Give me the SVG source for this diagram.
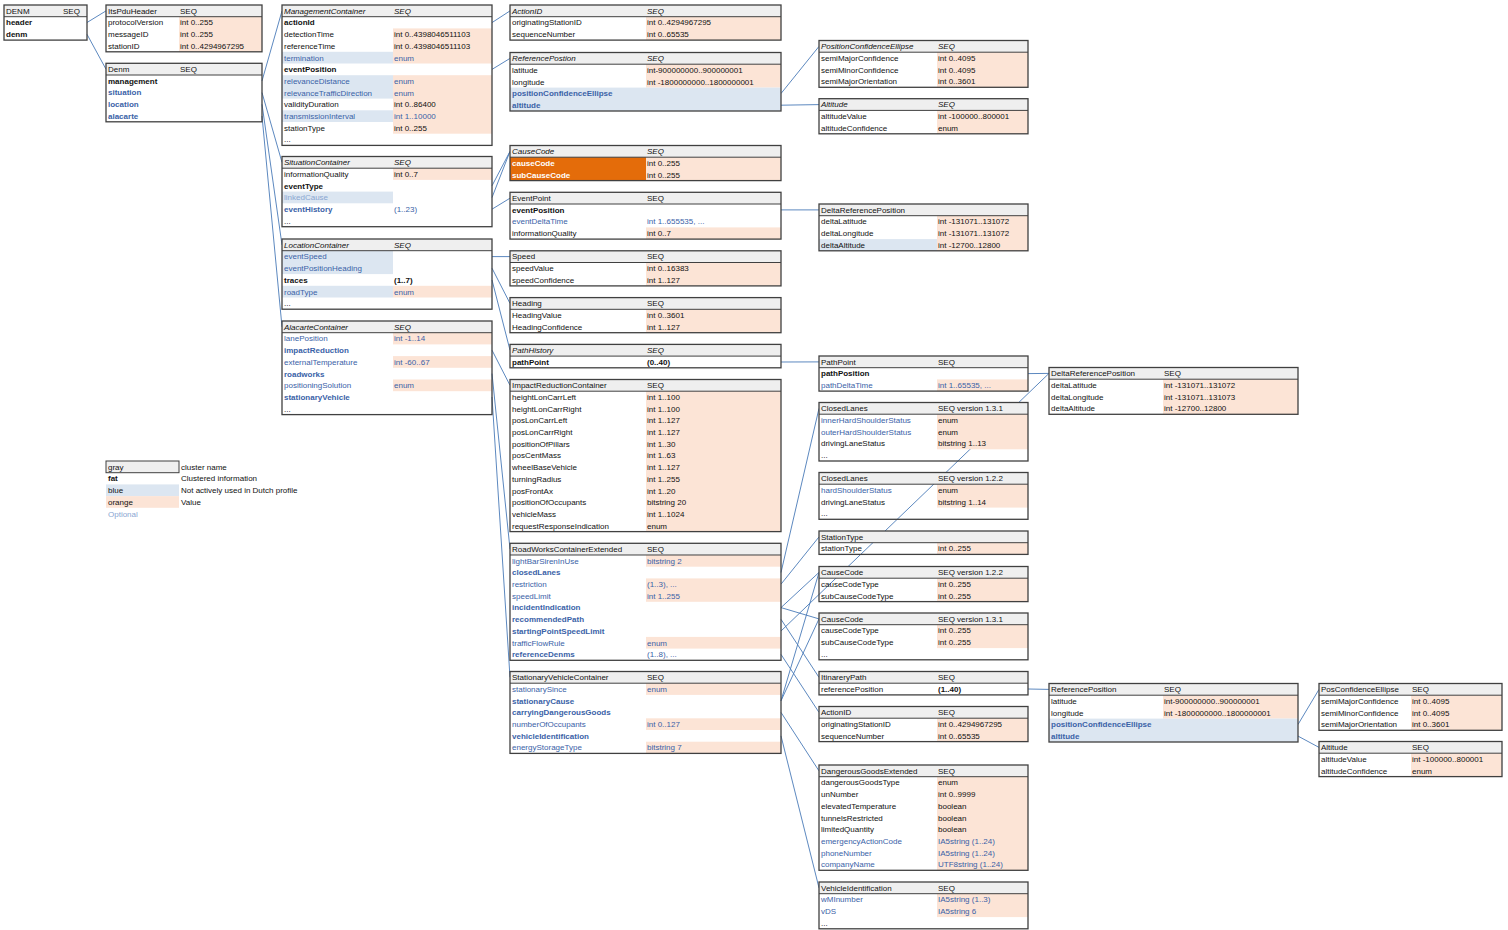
<svg xmlns="http://www.w3.org/2000/svg" width="1508" height="930" viewBox="0 0 1508 930">
<style>
text{font-family:"Liberation Sans",Arial,sans-serif;font-size:8px;fill:#111}
.i{font-style:italic}
.f{font-weight:bold}
.p{fill:#3a62a7}
.l{fill:#8aa6d2}
.w{fill:#fff}
.hd{fill:#efefef}
.o{fill:#fce4d6}
.u{fill:#dce6f1}
.d{fill:#e46c0a}
.bx{fill:none;stroke:#404040;stroke-width:1.3}
.sep{stroke:#404040;stroke-width:1}
#connectors line{stroke:#4a7ab8;stroke-width:0.9}
</style>
<rect width="1508" height="930" fill="#fff"/>

<g id="connectors">
<line x1="87" y1="22.5" x2="106" y2="10.9"/>
<line x1="87" y1="34.3" x2="106" y2="69.2"/>
<line x1="262" y1="80.9" x2="282" y2="10.9"/>
<line x1="262" y1="92.6" x2="282" y2="162.4"/>
<line x1="262" y1="104.3" x2="282" y2="244.9"/>
<line x1="262" y1="116" x2="282" y2="326.9"/>
<line x1="492" y1="22.6" x2="510" y2="10.9"/>
<line x1="492" y1="69.4" x2="510" y2="58.4"/>
<line x1="781" y1="93.5" x2="819" y2="46.4"/>
<line x1="781" y1="105.2" x2="819" y2="104.6"/>
<line x1="492" y1="185.8" x2="510" y2="151.4"/>
<line x1="492" y1="197.5" x2="510" y2="151.4"/>
<line x1="492" y1="209.2" x2="510" y2="198.2"/>
<line x1="492" y1="256.6" x2="510" y2="256.6"/>
<line x1="492" y1="268.2" x2="510" y2="303.4"/>
<line x1="492" y1="280" x2="510" y2="350.2"/>
<line x1="492" y1="350.2" x2="510" y2="385.3"/>
<line x1="492" y1="373.6" x2="510" y2="549.1"/>
<line x1="492" y1="397" x2="510" y2="677.3"/>
<line x1="781" y1="209.9" x2="819" y2="209.9"/>
<line x1="781" y1="362" x2="819" y2="361.9"/>
<line x1="1028" y1="373.6" x2="1049" y2="373.4"/>
<line x1="781" y1="572.5" x2="819" y2="408.4"/>
<line x1="781" y1="584.2" x2="819" y2="536.9"/>
<line x1="781" y1="607.6" x2="819" y2="572.4"/>
<line x1="781" y1="607.6" x2="819" y2="618.9"/>
<line x1="781" y1="619.3" x2="819" y2="677.4"/>
<line x1="781" y1="631" x2="1049" y2="373.4"/>
<line x1="781" y1="654.4" x2="819" y2="712.4"/>
<line x1="781" y1="700.8" x2="819" y2="572.4"/>
<line x1="781" y1="700.8" x2="819" y2="618.9"/>
<line x1="781" y1="712.4" x2="819" y2="770.9"/>
<line x1="781" y1="735.9" x2="819" y2="887.9"/>
<line x1="1028" y1="689" x2="1049" y2="689.4"/>
<line x1="1298" y1="724.5" x2="1319" y2="689.4"/>
<line x1="1298" y1="736.1" x2="1319" y2="747.4"/>
</g>

<g id="t-DENM" transform="translate(4,5)">
<rect class="hd" width="83" height="11.7"/>
<text x="2" y="8.7">DENM</text><text x="59" y="8.7">SEQ</text>
<text class="f" x="2" y="20.4">header</text>
<text class="f" x="2" y="32.1">denm</text>
<line class="sep" x1="0" y1="11.7" x2="83" y2="11.7"/>
<rect class="bx" width="83" height="35.1"/>
</g>

<g id="t-ItsPduHeader" transform="translate(106,5)">
<rect class="hd" width="156" height="11.7"/>
<rect class="o" x="73" y="11.7" width="83" height="35.1"/>
<text x="2" y="8.7">ItsPduHeader</text><text x="74" y="8.7">SEQ</text>
<text x="2" y="20.4">protocolVersion</text><text x="74" y="20.4">int 0..255</text>
<text x="2" y="32.1">messageID</text><text x="74" y="32.1">int 0..255</text>
<text x="2" y="43.8">stationID</text><text x="74" y="43.8">int 0..4294967295</text>
<line class="sep" x1="0" y1="11.7" x2="156" y2="11.7"/>
<rect class="bx" width="156" height="46.8"/>
</g>

<g id="t-Denm" transform="translate(106,63.3)">
<rect class="hd" width="156" height="11.7"/>
<text x="2" y="8.7">Denm</text><text x="74" y="8.7">SEQ</text>
<text class="f" x="2" y="20.4">management</text>
<text class="f p" x="2" y="32.1">situation</text>
<text class="f p" x="2" y="43.8">location</text>
<text class="f p" x="2" y="55.5">alacarte</text>
<line class="sep" x1="0" y1="11.7" x2="156" y2="11.7"/>
<rect class="bx" width="156" height="58.5"/>
</g>

<g id="t-ManagementContainer" transform="translate(282,5)">
<rect class="hd" width="210" height="11.7"/>
<rect class="o" x="111" y="23.4" width="99" height="35.1"/>
<rect class="o" x="111" y="70.2" width="99" height="58.5"/>
<rect class="u" x="0" y="46.8" width="111" height="11.7"/>
<rect class="u" x="0" y="70.2" width="111" height="23.4"/>
<rect class="u" x="0" y="105.3" width="111" height="11.7"/>
<text class="i" x="2" y="8.7">ManagementContainer</text><text class="i" x="112" y="8.7">SEQ</text>
<text class="f" x="2" y="20.4">actionId</text>
<text x="2" y="32.1">detectionTime</text><text x="112" y="32.1">int 0..4398046511103</text>
<text x="2" y="43.8">referenceTime</text><text x="112" y="43.8">int 0..4398046511103</text>
<text class="p" x="2" y="55.5">termination</text><text class="p" x="112" y="55.5">enum</text>
<text class="f" x="2" y="67.2">eventPosition</text>
<text class="p" x="2" y="78.9">relevanceDistance</text><text class="p" x="112" y="78.9">enum</text>
<text class="p" x="2" y="90.6">relevanceTrafficDirection</text><text class="p" x="112" y="90.6">enum</text>
<text x="2" y="102.3">validityDuration</text><text x="112" y="102.3">int 0..86400</text>
<text class="p" x="2" y="114">transmissionInterval</text><text class="p" x="112" y="114">int 1..10000</text>
<text x="2" y="125.7">stationType</text><text x="112" y="125.7">int 0..255</text>
<text x="2" y="137.4">...</text>
<line class="sep" x1="0" y1="11.7" x2="210" y2="11.7"/>
<rect class="bx" width="210" height="140.4"/>
</g>

<g id="t-SituationContainer" transform="translate(282,156.5)">
<rect class="hd" width="210" height="11.7"/>
<rect class="o" x="111" y="11.7" width="99" height="11.7"/>
<rect class="u" x="0" y="35.1" width="111" height="11.7"/>
<text class="i" x="2" y="8.7">SituationContainer</text><text class="i" x="112" y="8.7">SEQ</text>
<text x="2" y="20.4">informationQuality</text><text x="112" y="20.4">int 0..7</text>
<text class="f" x="2" y="32.1">eventType</text>
<text class="l" x="2" y="43.8">linkedCause</text>
<text class="f p" x="2" y="55.5">eventHistory</text><text class="p" x="112" y="55.5">(1..23)</text>
<text x="2" y="67.2">...</text>
<line class="sep" x1="0" y1="11.7" x2="210" y2="11.7"/>
<rect class="bx" width="210" height="70.2"/>
</g>

<g id="t-LocationContainer" transform="translate(282,239)">
<rect class="hd" width="210" height="11.7"/>
<rect class="u" x="0" y="11.7" width="111" height="23.4"/>
<rect class="u" x="0" y="46.8" width="111" height="11.7"/>
<rect class="o" x="111" y="46.8" width="99" height="11.7"/>
<text class="i" x="2" y="8.7">LocationContainer</text><text class="i" x="112" y="8.7">SEQ</text>
<text class="p" x="2" y="20.4">eventSpeed</text>
<text class="p" x="2" y="32.1">eventPositionHeading</text>
<text class="f" x="2" y="43.8">traces</text><text class="f" x="112" y="43.8">(1..7)</text>
<text class="p" x="2" y="55.5">roadType</text><text class="p" x="112" y="55.5">enum</text>
<text x="2" y="67.2">...</text>
<line class="sep" x1="0" y1="11.7" x2="210" y2="11.7"/>
<rect class="bx" width="210" height="70.2"/>
</g>

<g id="t-AlacarteContainer" transform="translate(282,321)">
<rect class="hd" width="210" height="11.7"/>
<rect class="o" x="111" y="11.7" width="99" height="11.7"/>
<rect class="o" x="111" y="35.1" width="99" height="11.7"/>
<rect class="o" x="111" y="58.5" width="99" height="11.7"/>
<text class="i" x="2" y="8.7">AlacarteContainer</text><text class="i" x="112" y="8.7">SEQ</text>
<text class="p" x="2" y="20.4">lanePosition</text><text class="p" x="112" y="20.4">int -1..14</text>
<text class="f p" x="2" y="32.1">impactReduction</text>
<text class="p" x="2" y="43.8">externalTemperature</text><text class="p" x="112" y="43.8">int -60..67</text>
<text class="f p" x="2" y="55.5">roadworks</text>
<text class="p" x="2" y="67.2">positioningSolution</text><text class="p" x="112" y="67.2">enum</text>
<text class="f p" x="2" y="78.9">stationaryVehicle</text>
<text x="2" y="90.6">...</text>
<line class="sep" x1="0" y1="11.7" x2="210" y2="11.7"/>
<rect class="bx" width="210" height="93.6"/>
</g>

<g id="t-ActionID" transform="translate(510,5)">
<rect class="hd" width="271" height="11.7"/>
<rect class="o" x="136" y="11.7" width="135" height="23.4"/>
<text class="i" x="2" y="8.7">ActionID</text><text class="i" x="137" y="8.7">SEQ</text>
<text x="2" y="20.4">originatingStationID</text><text x="137" y="20.4">int 0..4294967295</text>
<text x="2" y="32.1">sequenceNumber</text><text x="137" y="32.1">int 0..65535</text>
<line class="sep" x1="0" y1="11.7" x2="271" y2="11.7"/>
<rect class="bx" width="271" height="35.1"/>
</g>

<g id="t-ReferencePostion" transform="translate(510,52.5)">
<rect class="hd" width="271" height="11.7"/>
<rect class="o" x="136" y="11.7" width="135" height="23.4"/>
<rect class="u" x="0" y="35.1" width="271" height="23.4"/>
<text class="i" x="2" y="8.7">ReferencePostion</text><text class="i" x="137" y="8.7">SEQ</text>
<text x="2" y="20.4">latitude</text><text x="137" y="20.4">int-900000000..900000001</text>
<text x="2" y="32.1">longitude</text><text x="137" y="32.1">int -1800000000..1800000001</text>
<text class="f p" x="2" y="43.8">positionConfidenceEllipse</text>
<text class="f p" x="2" y="55.5">altitude</text>
<line class="sep" x1="0" y1="11.7" x2="271" y2="11.7"/>
<rect class="bx" width="271" height="58.5"/>
</g>

<g id="t-CauseCode" transform="translate(510,145.5)">
<rect class="hd" width="271" height="11.7"/>
<rect class="d" x="0" y="11.7" width="136" height="23.4"/>
<rect class="o" x="136" y="11.7" width="135" height="23.4"/>
<text class="i" x="2" y="8.7">CauseCode</text><text class="i" x="137" y="8.7">SEQ</text>
<text class="w f" x="2" y="20.4">causeCode</text><text x="137" y="20.4">int 0..255</text>
<text class="w f" x="2" y="32.1">subCauseCode</text><text x="137" y="32.1">int 0..255</text>
<line class="sep" x1="0" y1="11.7" x2="271" y2="11.7"/>
<rect class="bx" width="271" height="35.1"/>
</g>

<g id="t-EventPoint" transform="translate(510,192.3)">
<rect class="hd" width="271" height="11.7"/>
<rect class="o" x="136" y="35.1" width="135" height="11.7"/>
<text x="2" y="8.7">EventPoint</text><text x="137" y="8.7">SEQ</text>
<text class="f" x="2" y="20.4">eventPosition</text>
<text class="p" x="2" y="32.1">eventDeltaTime</text><text class="p" x="137" y="32.1">int 1..655535, ...</text>
<text x="2" y="43.8">informationQuality</text><text x="137" y="43.8">int 0..7</text>
<line class="sep" x1="0" y1="11.7" x2="271" y2="11.7"/>
<rect class="bx" width="271" height="46.8"/>
</g>

<g id="t-Speed" transform="translate(510,250.8)">
<rect class="hd" width="271" height="11.7"/>
<rect class="o" x="136" y="11.7" width="135" height="23.4"/>
<text x="2" y="8.7">Speed</text><text x="137" y="8.7">SEQ</text>
<text x="2" y="20.4">speedValue</text><text x="137" y="20.4">int 0..16383</text>
<text x="2" y="32.1">speedConfidence</text><text x="137" y="32.1">int 1..127</text>
<line class="sep" x1="0" y1="11.7" x2="271" y2="11.7"/>
<rect class="bx" width="271" height="35.1"/>
</g>

<g id="t-Heading" transform="translate(510,297.6)">
<rect class="hd" width="271" height="11.7"/>
<rect class="o" x="136" y="11.7" width="135" height="23.4"/>
<text x="2" y="8.7">Heading</text><text x="137" y="8.7">SEQ</text>
<text x="2" y="20.4">HeadingValue</text><text x="137" y="20.4">int 0..3601</text>
<text x="2" y="32.1">HeadingConfidence</text><text x="137" y="32.1">int 1..127</text>
<line class="sep" x1="0" y1="11.7" x2="271" y2="11.7"/>
<rect class="bx" width="271" height="35.1"/>
</g>

<g id="t-PathHistory" transform="translate(510,344.4)">
<rect class="hd" width="271" height="11.7"/>
<text class="i" x="2" y="8.7">PathHistory</text><text class="i" x="137" y="8.7">SEQ</text>
<text class="f" x="2" y="20.4">pathPoint</text><text class="f" x="137" y="20.4">(0..40)</text>
<line class="sep" x1="0" y1="11.7" x2="271" y2="11.7"/>
<rect class="bx" width="271" height="23.4"/>
</g>

<g id="t-ImpactReductionContainer" transform="translate(510,379.5)">
<rect class="hd" width="271" height="11.7"/>
<rect class="o" x="136" y="11.7" width="135" height="140.4"/>
<text x="2" y="8.7">ImpactReductionContainer</text><text x="137" y="8.7">SEQ</text>
<text x="2" y="20.4">heightLonCarrLeft</text><text x="137" y="20.4">int 1..100</text>
<text x="2" y="32.1">heightLonCarrRight</text><text x="137" y="32.1">int 1..100</text>
<text x="2" y="43.8">posLonCarrLeft</text><text x="137" y="43.8">int 1..127</text>
<text x="2" y="55.5">posLonCarrRight</text><text x="137" y="55.5">int 1..127</text>
<text x="2" y="67.2">positionOfPillars</text><text x="137" y="67.2">int 1..30</text>
<text x="2" y="78.9">posCentMass</text><text x="137" y="78.9">int 1..63</text>
<text x="2" y="90.6">wheelBaseVehicle</text><text x="137" y="90.6">int 1..127</text>
<text x="2" y="102.3">turningRadius</text><text x="137" y="102.3">int 1..255</text>
<text x="2" y="114">posFrontAx</text><text x="137" y="114">int 1..20</text>
<text x="2" y="125.7">positionOfOccupants</text><text x="137" y="125.7">bitstring 20</text>
<text x="2" y="137.4">vehicleMass</text><text x="137" y="137.4">int 1..1024</text>
<text x="2" y="149.1">requestResponseIndication</text><text x="137" y="149.1">enum</text>
<line class="sep" x1="0" y1="11.7" x2="271" y2="11.7"/>
<rect class="bx" width="271" height="152.1"/>
</g>

<g id="t-RoadWorksContainerExtended" transform="translate(510,543.3)">
<rect class="hd" width="271" height="11.7"/>
<rect class="o" x="136" y="11.7" width="135" height="11.7"/>
<rect class="o" x="136" y="35.1" width="135" height="23.4"/>
<rect class="o" x="136" y="93.6" width="135" height="11.7"/>
<text x="2" y="8.7">RoadWorksContainerExtended</text><text x="137" y="8.7">SEQ</text>
<text class="p" x="2" y="20.4">lightBarSirenInUse</text><text class="p" x="137" y="20.4">bitstring 2</text>
<text class="f p" x="2" y="32.1">closedLanes</text>
<text class="p" x="2" y="43.8">restriction</text><text class="p" x="137" y="43.8">(1..3), ...</text>
<text class="p" x="2" y="55.5">speedLimit</text><text class="p" x="137" y="55.5">int 1..255</text>
<text class="f p" x="2" y="67.2">incidentIndication</text>
<text class="f p" x="2" y="78.9">recommendedPath</text>
<text class="f p" x="2" y="90.6">startingPointSpeedLimit</text>
<text class="p" x="2" y="102.3">trafficFlowRule</text><text class="p" x="137" y="102.3">enum</text>
<text class="f p" x="2" y="114">referenceDenms</text><text class="p" x="137" y="114">(1..8), ...</text>
<line class="sep" x1="0" y1="11.7" x2="271" y2="11.7"/>
<rect class="bx" width="271" height="117"/>
</g>

<g id="t-StationaryVehicleContainer" transform="translate(510,671.5)">
<rect class="hd" width="271" height="11.7"/>
<rect class="o" x="136" y="11.7" width="135" height="11.7"/>
<rect class="o" x="136" y="46.8" width="135" height="11.7"/>
<rect class="o" x="136" y="70.2" width="135" height="11.7"/>
<text x="2" y="8.7">StationaryVehicleContainer</text><text x="137" y="8.7">SEQ</text>
<text class="p" x="2" y="20.4">stationarySince</text><text class="p" x="137" y="20.4">enum</text>
<text class="f p" x="2" y="32.1">stationaryCause</text>
<text class="f p" x="2" y="43.8">carryingDangerousGoods</text>
<text class="p" x="2" y="55.5">numberOfOccupants</text><text class="p" x="137" y="55.5">int 0..127</text>
<text class="f p" x="2" y="67.2">vehicleIdentification</text>
<text class="p" x="2" y="78.9">energyStorageType</text><text class="p" x="137" y="78.9">bitstring 7</text>
<line class="sep" x1="0" y1="11.7" x2="271" y2="11.7"/>
<rect class="bx" width="271" height="81.9"/>
</g>

<g id="t-PositionConfidenceEllipse" transform="translate(819,40.5)">
<rect class="hd" width="209" height="11.7"/>
<rect class="o" x="118" y="11.7" width="91" height="35.1"/>
<text class="i" x="2" y="8.7">PositionConfidenceEllipse</text><text class="i" x="119" y="8.7">SEQ</text>
<text x="2" y="20.4">semiMajorConfidence</text><text x="119" y="20.4">int 0..4095</text>
<text x="2" y="32.1">semiMinorConfidence</text><text x="119" y="32.1">int 0..4095</text>
<text x="2" y="43.8">semiMajorOrientation</text><text x="119" y="43.8">int 0..3601</text>
<line class="sep" x1="0" y1="11.7" x2="209" y2="11.7"/>
<rect class="bx" width="209" height="46.8"/>
</g>

<g id="t-Altitude" transform="translate(819,98.7)">
<rect class="hd" width="209" height="11.7"/>
<rect class="o" x="118" y="11.7" width="91" height="23.4"/>
<text class="i" x="2" y="8.7">Altitude</text><text class="i" x="119" y="8.7">SEQ</text>
<text x="2" y="20.4">altitudeValue</text><text x="119" y="20.4">int -100000..800001</text>
<text x="2" y="32.1">altitudeConfidence</text><text x="119" y="32.1">enum</text>
<line class="sep" x1="0" y1="11.7" x2="209" y2="11.7"/>
<rect class="bx" width="209" height="35.1"/>
</g>

<g id="t-DeltaReferencePosition" transform="translate(819,204)">
<rect class="hd" width="209" height="11.7"/>
<rect class="o" x="118" y="11.7" width="91" height="35.1"/>
<rect class="u" x="0" y="35.1" width="118" height="11.7"/>
<text x="2" y="8.7">DeltaReferencePosition</text>
<text x="2" y="20.4">deltaLatitude</text><text x="119" y="20.4">int -131071..131072</text>
<text x="2" y="32.1">deltaLongitude</text><text x="119" y="32.1">int -131071..131072</text>
<text x="2" y="43.8">deltaAltitude</text><text x="119" y="43.8">int -12700..12800</text>
<line class="sep" x1="0" y1="11.7" x2="209" y2="11.7"/>
<rect class="bx" width="209" height="46.8"/>
</g>

<g id="t-PathPoint" transform="translate(819,356)">
<rect class="hd" width="209" height="11.7"/>
<rect class="o" x="118" y="23.4" width="91" height="11.7"/>
<text x="2" y="8.7">PathPoint</text><text x="119" y="8.7">SEQ</text>
<text class="f" x="2" y="20.4">pathPosition</text>
<text class="p" x="2" y="32.1">pathDeltaTime</text><text class="p" x="119" y="32.1">int 1..65535, ...</text>
<line class="sep" x1="0" y1="11.7" x2="209" y2="11.7"/>
<rect class="bx" width="209" height="35.1"/>
</g>

<g id="t-ClosedLanes-131" transform="translate(819,402.5)">
<rect class="hd" width="209" height="11.7"/>
<rect class="o" x="118" y="11.7" width="91" height="35.1"/>
<text x="2" y="8.7">ClosedLanes</text><text x="119" y="8.7">SEQ version 1.3.1</text>
<text class="p" x="2" y="20.4">innerHardShoulderStatus</text><text x="119" y="20.4">enum</text>
<text class="p" x="2" y="32.1">outerHardShoulderStatus</text><text x="119" y="32.1">enum</text>
<text x="2" y="43.8">drivingLaneStatus</text><text x="119" y="43.8">bitstring 1..13</text>
<text x="2" y="55.5">...</text>
<line class="sep" x1="0" y1="11.7" x2="209" y2="11.7"/>
<rect class="bx" width="209" height="58.5"/>
</g>

<g id="t-ClosedLanes-122" transform="translate(819,472.5)">
<rect class="hd" width="209" height="11.7"/>
<rect class="o" x="118" y="11.7" width="91" height="23.4"/>
<text x="2" y="8.7">ClosedLanes</text><text x="119" y="8.7">SEQ version 1.2.2</text>
<text class="p" x="2" y="20.4">hardShoulderStatus</text><text x="119" y="20.4">enum</text>
<text x="2" y="32.1">drivingLaneStatus</text><text x="119" y="32.1">bitstring 1..14</text>
<text x="2" y="43.8">...</text>
<line class="sep" x1="0" y1="11.7" x2="209" y2="11.7"/>
<rect class="bx" width="209" height="46.8"/>
</g>

<g id="t-StationType" transform="translate(819,531)">
<rect class="hd" width="209" height="11.7"/>
<rect class="o" x="118" y="11.7" width="91" height="11.7"/>
<text x="2" y="8.7">StationType</text>
<text x="2" y="20.4">stationType</text><text x="119" y="20.4">int 0..255</text>
<line class="sep" x1="0" y1="11.7" x2="209" y2="11.7"/>
<rect class="bx" width="209" height="23.4"/>
</g>

<g id="t-CauseCode-122" transform="translate(819,566.5)">
<rect class="hd" width="209" height="11.7"/>
<rect class="o" x="118" y="11.7" width="91" height="23.4"/>
<text x="2" y="8.7">CauseCode</text><text x="119" y="8.7">SEQ version 1.2.2</text>
<text x="2" y="20.4">causeCodeType</text><text x="119" y="20.4">int 0..255</text>
<text x="2" y="32.1">subCauseCodeType</text><text x="119" y="32.1">int 0..255</text>
<line class="sep" x1="0" y1="11.7" x2="209" y2="11.7"/>
<rect class="bx" width="209" height="35.1"/>
</g>

<g id="t-CauseCode-131" transform="translate(819,613)">
<rect class="hd" width="209" height="11.7"/>
<rect class="o" x="118" y="11.7" width="91" height="23.4"/>
<text x="2" y="8.7">CauseCode</text><text x="119" y="8.7">SEQ version 1.3.1</text>
<text x="2" y="20.4">causeCodeType</text><text x="119" y="20.4">int 0..255</text>
<text x="2" y="32.1">subCauseCodeType</text><text x="119" y="32.1">int 0..255</text>
<text x="2" y="43.8">...</text>
<line class="sep" x1="0" y1="11.7" x2="209" y2="11.7"/>
<rect class="bx" width="209" height="46.8"/>
</g>

<g id="t-ItinareryPath" transform="translate(819,671.5)">
<rect class="hd" width="209" height="11.7"/>
<text x="2" y="8.7">ItinareryPath</text><text x="119" y="8.7">SEQ</text>
<text x="2" y="20.4">referencePosition</text><text class="f" x="119" y="20.4">(1..40)</text>
<line class="sep" x1="0" y1="11.7" x2="209" y2="11.7"/>
<rect class="bx" width="209" height="23.4"/>
</g>

<g id="t-ActionID-2" transform="translate(819,706.5)">
<rect class="hd" width="209" height="11.7"/>
<rect class="o" x="118" y="11.7" width="91" height="23.4"/>
<text x="2" y="8.7">ActionID</text><text x="119" y="8.7">SEQ</text>
<text x="2" y="20.4">originatingStationID</text><text x="119" y="20.4">int 0..4294967295</text>
<text x="2" y="32.1">sequenceNumber</text><text x="119" y="32.1">int 0..65535</text>
<line class="sep" x1="0" y1="11.7" x2="209" y2="11.7"/>
<rect class="bx" width="209" height="35.1"/>
</g>

<g id="t-DangerousGoodsExtended" transform="translate(819,765)">
<rect class="hd" width="209" height="11.7"/>
<rect class="o" x="118" y="11.7" width="91" height="93.6"/>
<text x="2" y="8.7">DangerousGoodsExtended</text><text x="119" y="8.7">SEQ</text>
<text x="2" y="20.4">dangerousGoodsType</text><text x="119" y="20.4">enum</text>
<text x="2" y="32.1">unNumber</text><text x="119" y="32.1">int 0..9999</text>
<text x="2" y="43.8">elevatedTemperature</text><text x="119" y="43.8">boolean</text>
<text x="2" y="55.5">tunnelsRestricted</text><text x="119" y="55.5">boolean</text>
<text x="2" y="67.2">limitedQuantity</text><text x="119" y="67.2">boolean</text>
<text class="p" x="2" y="78.9">emergencyActionCode</text><text class="p" x="119" y="78.9">IA5string (1..24)</text>
<text class="p" x="2" y="90.6">phoneNumber</text><text class="p" x="119" y="90.6">IA5string (1..24)</text>
<text class="p" x="2" y="102.3">companyName</text><text class="p" x="119" y="102.3">UTF8string (1..24)</text>
<line class="sep" x1="0" y1="11.7" x2="209" y2="11.7"/>
<rect class="bx" width="209" height="105.3"/>
</g>

<g id="t-VehicleIdentification" transform="translate(819,882)">
<rect class="hd" width="209" height="11.7"/>
<rect class="o" x="118" y="11.7" width="91" height="23.4"/>
<text x="2" y="8.7">VehicleIdentification</text><text x="119" y="8.7">SEQ</text>
<text class="p" x="2" y="20.4">wMInumber</text><text class="p" x="119" y="20.4">IA5string (1..3)</text>
<text class="p" x="2" y="32.1">vDS</text><text class="p" x="119" y="32.1">IA5string 6</text>
<text x="2" y="43.8">...</text>
<line class="sep" x1="0" y1="11.7" x2="209" y2="11.7"/>
<rect class="bx" width="209" height="46.8"/>
</g>

<g id="t-DeltaReferencePosition-2" transform="translate(1049,367.5)">
<rect class="hd" width="249" height="11.7"/>
<rect class="o" x="114" y="11.7" width="135" height="35.1"/>
<text x="2" y="8.7">DeltaReferencePosition</text><text x="115" y="8.7">SEQ</text>
<text x="2" y="20.4">deltaLatitude</text><text x="115" y="20.4">int -131071..131072</text>
<text x="2" y="32.1">deltaLongitude</text><text x="115" y="32.1">int -131071..131073</text>
<text x="2" y="43.8">deltaAltitude</text><text x="115" y="43.8">int -12700..12800</text>
<line class="sep" x1="0" y1="11.7" x2="249" y2="11.7"/>
<rect class="bx" width="249" height="46.8"/>
</g>

<g id="t-ReferencePosition-2" transform="translate(1049,683.5)">
<rect class="hd" width="249" height="11.7"/>
<rect class="o" x="114" y="11.7" width="135" height="23.4"/>
<rect class="u" x="0" y="35.1" width="249" height="23.4"/>
<text x="2" y="8.7">ReferencePosition</text><text x="115" y="8.7">SEQ</text>
<text x="2" y="20.4">latitude</text><text x="115" y="20.4">int-900000000..900000001</text>
<text x="2" y="32.1">longitude</text><text x="115" y="32.1">int -1800000000..1800000001</text>
<text class="f p" x="2" y="43.8">positionConfidenceEllipse</text>
<text class="f p" x="2" y="55.5">altitude</text>
<line class="sep" x1="0" y1="11.7" x2="249" y2="11.7"/>
<rect class="bx" width="249" height="58.5"/>
</g>

<g id="t-PosConfidenceEllipse" transform="translate(1319,683.5)">
<rect class="hd" width="183" height="11.7"/>
<rect class="o" x="92" y="11.7" width="91" height="35.1"/>
<text x="2" y="8.7">PosConfidenceEllipse</text><text x="93" y="8.7">SEQ</text>
<text x="2" y="20.4">semiMajorConfidence</text><text x="93" y="20.4">int 0..4095</text>
<text x="2" y="32.1">semiMinorConfidence</text><text x="93" y="32.1">int 0..4095</text>
<text x="2" y="43.8">semiMajorOrientation</text><text x="93" y="43.8">int 0..3601</text>
<line class="sep" x1="0" y1="11.7" x2="183" y2="11.7"/>
<rect class="bx" width="183" height="46.8"/>
</g>

<g id="t-Altitude-2" transform="translate(1319,741.5)">
<rect class="hd" width="183" height="11.7"/>
<rect class="o" x="92" y="11.7" width="91" height="23.4"/>
<text x="2" y="8.7">Altitude</text><text x="93" y="8.7">SEQ</text>
<text x="2" y="20.4">altitudeValue</text><text x="93" y="20.4">int -100000..800001</text>
<text x="2" y="32.1">altitudeConfidence</text><text x="93" y="32.1">enum</text>
<line class="sep" x1="0" y1="11.7" x2="183" y2="11.7"/>
<rect class="bx" width="183" height="35.1"/>
</g>

<g id="legend" transform="translate(106,461)">
<rect class="hd" width="73" height="11.7" stroke="#404040" stroke-width="1"/>
<rect class="u" x="0" y="23.4" width="73" height="11.7"/>
<rect class="o" x="0" y="35.1" width="73" height="11.7"/>
<text x="2" y="8.7">gray</text><text x="75" y="8.7">cluster name</text>
<text class="f" x="2" y="20.4">fat</text><text x="75" y="20.4">Clustered information</text>
<text x="2" y="32.1">blue</text><text x="75" y="32.1">Not actively used in Dutch profile</text>
<text x="2" y="43.8">orange</text><text x="75" y="43.8">Value</text>
<text class="l" x="2" y="55.5">Optional</text>
</g>
</svg>
